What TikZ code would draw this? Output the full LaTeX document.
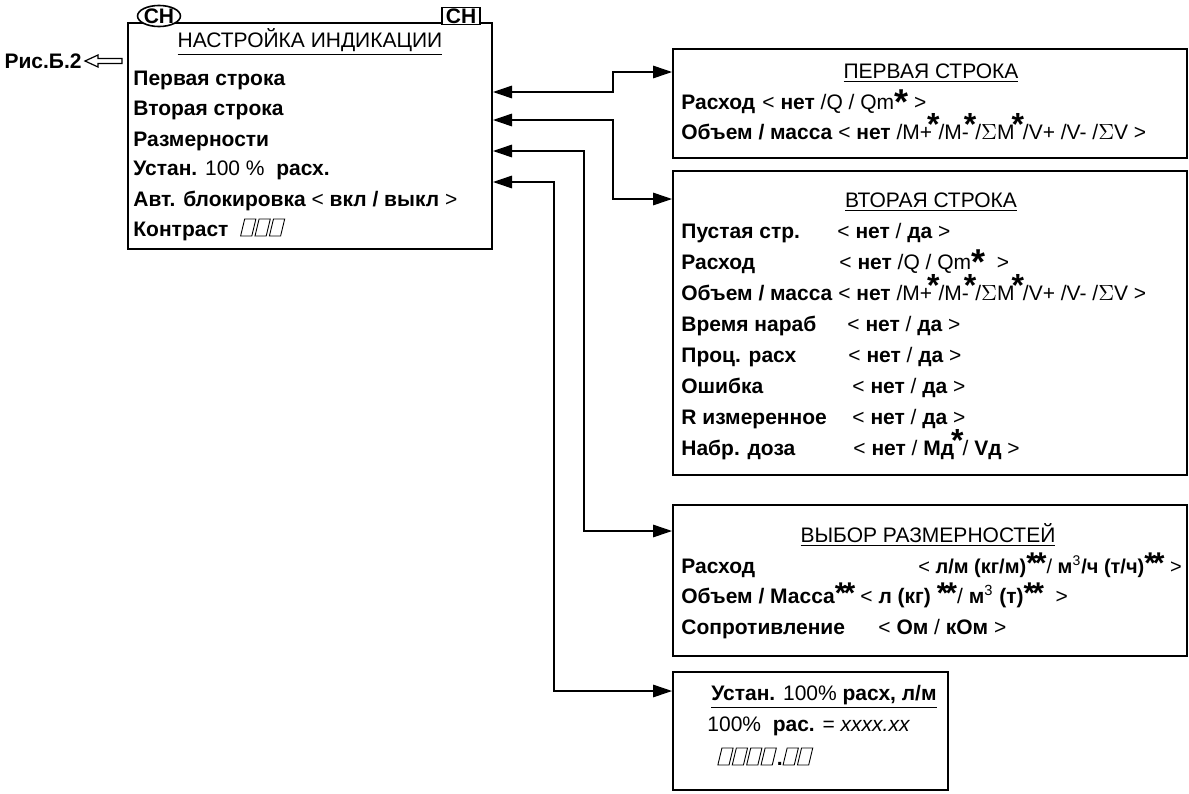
\documentclass[tikz,border=0pt]{standalone}
\usepackage{fontspec}
\setmainfont{Liberation Sans}
\usepackage{tikz}
\usetikzlibrary{arrows.meta,positioning,calc,shapes.geometric}

\newcommand{\rg}[1]{{\mdseries #1}}
\newcommand{\zv}{\smash{\raisebox{-2.8pt}{\fontsize{18}{18}\selectfont\bfseries *}}}
\newcommand{\zvv}{\smash{\raisebox{2pt}{\fontsize{16}{16}\selectfont\bfseries *}}}
\newcommand{\zvs}{\smash{\fontsize{15}{15}\selectfont\bfseries *\kern-1.5pt*}}
\newcommand{\cells}[1]{\tikz[baseline=0pt,x=1pt,y=1pt]{\foreach \k in {1,...,#1}{\draw[line width=0.45pt,xslant=0.24] (7.2*\k-7.2,0) rectangle ++(5.6,8.5);}}}

\begin{document}
\begin{tikzpicture}[
  x=0.5pt, y=-0.5pt,
  font=\fontsize{10.5}{12}\selectfont,
  box/.style={draw, line width=1pt, inner sep=0pt},
  txt/.style={anchor=base west, inner sep=0pt, font=\fontsize{10.5}{12}\selectfont\bfseries},
  ttl/.style={anchor=base, inner sep=0pt},
  chmark/.style={draw, fill=white, line width=0.8pt, inner sep=0pt, font=\fontsize{10.5}{11}\selectfont\bfseries},
  conn/.style={{Triangle[length=9.5pt,width=6.3pt]}-{Triangle[length=9.5pt,width=6.3pt]}, line width=0.6pt}
]
\useasboundingbox (0,0) rectangle (1189,793);

% menu box
\node[box, minimum width=182pt, minimum height=113pt] (main) at (310,136) {};
\node[chmark, ellipse, minimum width=21pt, minimum height=9pt] (ch1) at (159,16) {СН};
\node[chmark, minimum width=19pt, minimum height=8.5pt] (ch2) at (461,16) {СН};
\node[ttl] (mtitle) at (310,47) {\underline{НАСТРОЙКА ИНДИКАЦИИ}};
\node[txt] (first) at (133,85) {Первая строка};
\node[txt] (second) at (133,115) {Вторая строка};
\node[txt] (units) at (133,146) {Размерности};
\node[txt] (full) at (133,175) {Устан. \rg{100 \%}\ \ расх.};
\node[txt] (lock) at (133,206) {Авт. блокировка \rg{<} вкл / выкл \rg{>}};
\node[txt] (contr) at (133,236) {Контраст\ \ \cells{3}};

\node[txt, anchor=base east] (fig) at (82,68) {Рис.Б.2};
\coordinate (back) at (85,61);
\draw[line width=0.6pt] (back) -- ++(13,-6) -- ++(0,3.5) -- ++(24,0) -- ++(0,5) -- ++(-24,0) -- ++(0,3.5) -- cycle;

% sub menus
\node[box, minimum width=257pt, minimum height=54.5pt] (box1) at (930,103.5) {};
\node[ttl] (t1) at (931,78) {\underline{ПЕРВАЯ СТРОКА}};
\node[txt] (f1) at (681,109) {Расход};
\node[txt] (f1v) at (762,109) {\rg{<} нет \rg{/Q / Qm}\zv\ \rg{>}};
\node[txt] (f2) at (681,139) {Объем / масса \rg{<} нет \rg{/M+\kern-2.5pt\zvv\kern-0.5pt/M-\kern-2.5pt\zvv\kern-0.5pt/$\Sigma$M\kern-1.5pt\zvv\kern-0.5pt/V+ /V- /$\Sigma$V >}};

\node[box, minimum width=257pt, minimum height=152pt] (box2) at (930,323) {};
\node[ttl] (t2) at (931,207) {\underline{ВТОРАЯ СТРОКА}};
\node[txt] (s1) at (681,238) {Пустая стр.};
\node[txt] (s1v) at (837,238) {\rg{<} нет \rg{/} да \rg{>}};
\node[txt] (s2) at (681,269) {Расход};
\node[txt] (s2v) at (839,269) {\rg{<} нет \rg{/Q / Qm}\zv\ \ \rg{>}};
\node[txt] (s3) at (681,300) {Объем / масса \rg{<} нет \rg{/M+\kern-2.5pt\zvv\kern-0.5pt/M-\kern-2.5pt\zvv\kern-0.5pt/$\Sigma$M\kern-1.5pt\zvv\kern-0.5pt/V+ /V- /$\Sigma$V >}};
\node[txt] (s4) at (681,331) {Время нараб};
\node[txt] (s4v) at (847,331) {\rg{<} нет \rg{/} да \rg{>}};
\node[txt] (s5) at (681,362) {Проц. расх};
\node[txt] (s5v) at (848,362) {\rg{<} нет \rg{/} да \rg{>}};
\node[txt] (s6) at (681,393) {Ошибка};
\node[txt] (s6v) at (852,393) {\rg{<} нет \rg{/} да \rg{>}};
\node[txt] (s7) at (681,424) {R измеренное};
\node[txt] (s7v) at (852,424) {\rg{<} нет \rg{/} да \rg{>}};
\node[txt] (s8) at (681,455) {Набр. доза};
\node[txt] (s8v) at (853,455) {\rg{<} нет \rg{/} Мд\kern-1.5pt\zvv\kern-0.5pt\rg{/} Vд \rg{>}};

\node[box, minimum width=257pt, minimum height=75.5pt] (box3) at (930,580.5) {};
\node[ttl] (t3) at (928,542) {\underline{ВЫБОР РАЗМЕРНОСТЕЙ}};
\node[txt] (u1) at (681,573) {Расход};
\node[txt, font=\fontsize{10}{12}\selectfont\bfseries] (u1v) at (918,573) {\rg{<} л/м (кг/м)\zvs\rg{/} м\rg{\textsuperscript{3}}/ч (т/ч)\zvs\ \rg{>}};
\node[txt] (u2) at (681,603) {Объем / Масса\zvs};
\node[txt] (u2v) at (860,603) {\rg{<} л (кг) \zvs\rg{/}\ м\rg{\textsuperscript{3}} (т)\zvs\ \ \rg{>}};
\node[txt] (u3) at (681,634) {Сопротивление};
\node[txt] (u3v) at (878,634) {\rg{<} Ом \rg{/} кОм \rg{>}};

\node[box, minimum width=137.5pt, minimum height=59pt] (box4) at (810.5,731) {};
\node[txt] (t4) at (711,700) {\underline{Устан. \rg{100\%} расх, л/м}};
\node[txt] (p1) at (707,731) {\rg{100\%}\ \ рас. \rg{= \itshape xxxx.xx}};
\node[txt] (p2) at (717,765) {\cells{4}.\cells{2}};

% links
\coordinate (m1) at ($(main.north east)+(0,70)$);
\coordinate (m2) at ($(main.north east)+(0,98)$);
\coordinate (m3) at ($(main.north east)+(0,129)$);
\coordinate (m4) at ($(main.north east)+(0,160)$);
\coordinate (b1) at ($(box1.north west)+(0,24)$);
\coordinate (b2) at ($(box2.north west)+(0,29)$);
\coordinate (b3) at ($(box3.north west)+(0,27)$);
\coordinate (b4) at ($(box4.north west)+(0,20)$);
\draw[conn] (m1) -- ++(120,0) |- (b1);
\draw[conn] (m2) -- ++(120,0) |- (b2);
\draw[conn] (m3) -- ++(91,0) |- (b3);
\draw[conn] (m4) -- ++(61,0) |- (b4);
\end{tikzpicture}
\end{document}
